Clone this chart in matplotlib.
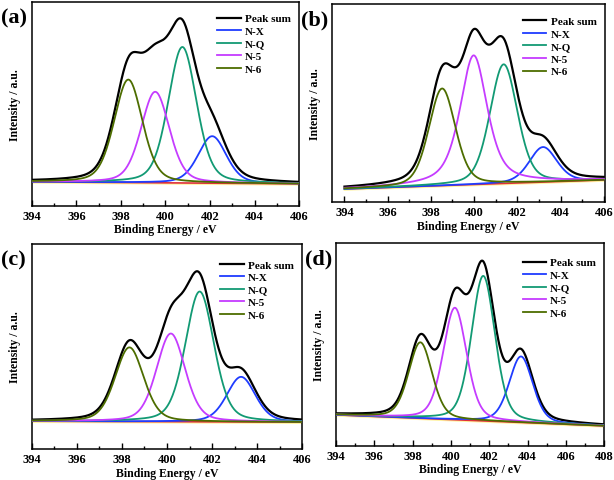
import numpy as np
import matplotlib
matplotlib.use('Agg')
from matplotlib import pyplot as plt
from matplotlib.ticker import MultipleLocator

plt.rcParams['font.family'] = ['Liberation Serif', 'DejaVu Serif']
plt.rcParams['font.weight'] = 'bold'

# fitted N 1s components: centre (eV), height (a.u.), FWHM (eV), lorentz share
names = ['N-X', 'N-Q', 'N-5', 'N-6']
colors = ['#1f3cff', '#129a74', '#c53cff', '#4d6d00']

centres_a = [402.1, 400.76, 399.54, 398.33]
heights_a = [47, 136, 91, 103]
fwhm_a = [1.5, 1.5, 1.5, 1.5]
mix_a = [0.3, 0.3, 0.3, 0.3]
bg_a = [0, -2]

centres_b = [403.19, 401.37, 399.98, 398.52]
heights_b = [35, 119, 129, 97]
fwhm_b = [1.5, 1.5, 1.5, 1.45]
mix_b = [0.3, 0.3, 0.6, 0.3]
bg_b = [-2, 7]

centres_c = [403.29, 401.45, 400.17, 398.33]
heights_c = [45, 130, 88, 74]
fwhm_c = [1.5, 1.5, 1.5, 1.5]
mix_c = [0.3, 0.3, 0.3, 0.3]
bg_c = [0, -1]

centres_d = [403.66, 401.69, 400.21, 398.41]
heights_d = [66, 145, 112, 76]
fwhm_d = [1.45, 1.45, 1.45, 1.45]
mix_d = [0.3, 0.3, 0.3, 0.3]
bg_d = [0, -11]

panels = [
  dict(tag='(a)', c=centres_a, h=heights_a, w=fwhm_a, m=mix_a, bg=bg_a, xr=(394, 406),
       xlim=(394, 406), ylim=(-24, 180), pos=[0.052, 0.570, 0.435, 0.424], leg_y=0.975),
  dict(tag='(b)', c=centres_b, h=heights_b, w=fwhm_b, m=mix_b, bg=bg_b, xr=(394, 406),
       xlim=(393.43, 406.05), ylim=(-15, 183), pos=[0.541, 0.578, 0.444, 0.412], leg_y=0.97),
  dict(tag='(c)', c=centres_c, h=heights_c, w=fwhm_c, m=mix_c, bg=bg_c, xr=(394, 406),
       xlim=(394, 406), ylim=(-28, 177), pos=[0.052, 0.064, 0.440, 0.427], leg_y=0.955),
  dict(tag='(d)', c=centres_d, h=heights_d, w=fwhm_d, m=mix_d, bg=bg_d, xr=(394, 408),
       xlim=(394, 408), ylim=(-31, 172), pos=[0.547, 0.071, 0.437, 0.422], leg_y=0.96),
]


def pseudo_voigt(x, c, h, w, m):
  g = np.exp(-4 * np.log(2) * ((x - c) / w) ** 2)
  l = 1 / (1 + 4 * ((x - c) / w) ** 2)
  return h * ((1 - m) * g + m * l)


fig = plt.figure(figsize=(6.14, 4.81), dpi=100)

for p in panels:
  ax = fig.add_axes(p['pos'])
  x = np.linspace(p['xr'][0], p['xr'][1], 600)
  bg = np.interp(x, p['xr'], p['bg'])
  peaks = [pseudo_voigt(x, p['c'][i], p['h'][i], p['w'][i], p['m'][i]) for i in range(4)]
  total = bg + sum(peaks)

  ax.plot(x, bg - 1, c='#fff3a0', lw=1.2, zorder=1)
  ax.plot(x, bg, c='#e0303a', lw=1.2, zorder=1)
  ax.plot(x, total, c='black', lw=1.6, label='Peak sum', zorder=2)
  for i in range(4):
    ax.plot(x, bg + peaks[i], c=colors[i], lw=1.3, label=names[i], zorder=3)

  ax.set_xlim(p['xlim'])
  ax.set_ylim(p['ylim'])
  ax.xaxis.set_major_locator(MultipleLocator(2))
  ax.xaxis.set_minor_locator(MultipleLocator(1))
  ax.tick_params(axis='x', which='major', direction='in', length=4, width=1,
                 labelsize=9, pad=3)
  ax.tick_params(axis='x', which='minor', direction='in', length=2.5, width=1)
  ax.set_yticks([])
  for s in ax.spines.values():
    s.set_linewidth(1.1)
  for lab in ax.get_xticklabels():
    lab.set_fontweight('bold')
  ax.set_xlabel('Binding Energy / eV', fontsize=8.5, fontweight='bold', labelpad=1)
  ax.set_ylabel('Intensity / a.u.', fontsize=8.5, fontweight='bold', labelpad=8)
  leg = ax.legend(loc='upper right', frameon=False, fontsize=8, handlelength=2.1,
                  labelspacing=0.25, handletextpad=0.4, borderaxespad=0.2,
                  bbox_to_anchor=(0.995, p['leg_y']))
  for t in leg.get_texts():
    t.set_fontweight('bold')

  fig.text(p['pos'][0] - 0.05, p['pos'][1] + p['pos'][3] - 0.012, p['tag'],
           fontsize=16, fontweight='bold', ha='left', va='top')

fig.savefig('out.png', dpi=100)
